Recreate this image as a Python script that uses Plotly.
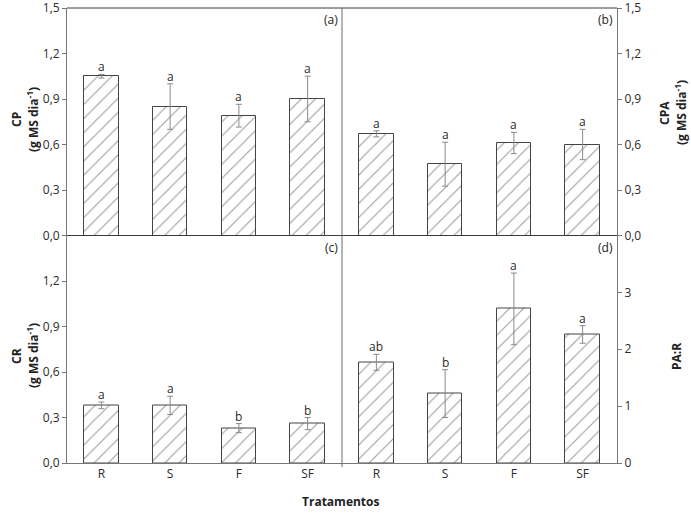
import plotly.graph_objects as go

categories = ["R", "S", "F", "SF"]

cp_values = [1.05, 0.85, 0.79, 0.90]
cp_errors = [0.012, 0.15, 0.075, 0.15]
cp_letters = ["a", "a", "a", "a"]

cpa_values = [0.67, 0.47, 0.61, 0.60]
cpa_errors = [0.02, 0.145, 0.07, 0.10]
cpa_letters = ["a", "a", "a", "a"]

cr_values = [0.38, 0.38, 0.23, 0.26]
cr_errors = [0.022, 0.06, 0.03, 0.04]
cr_letters = ["a", "a", "b", "b"]

par_values = [1.77, 1.22, 2.71, 2.26]
par_errors = [0.14, 0.42, 0.63, 0.155]
par_letters = ["ab", "b", "a", "a"]

cp_ticks = [0, 0.3, 0.6, 0.9, 1.2, 1.5]
cp_ticktext = ["0,0", "0,3", "0,6", "0,9", "1,2", "1,5"]
cr_ticks = [0, 0.3, 0.6, 0.9, 1.2]
cr_ticktext = ["0,0", "0,3", "0,6", "0,9", "1,2"]
par_ticks = [0, 1, 2, 3]
par_ticktext = ["0", "1", "2", "3"]

FONT = "Open Sans"
TXT = "#2b2b2b"
AXC = "#777777"
DARK = "#3a3a3a"

panels = [
    ("x", "y", cp_values, cp_errors, cp_letters),
    ("x2", "y2", cpa_values, cpa_errors, cpa_letters),
    ("x3", "y3", cr_values, cr_errors, cr_letters),
    ("x4", "y4", par_values, par_errors, par_letters),
]

fig = go.Figure()
annotations = []
for xa, ya, vals, errs, letters in panels:
    fig.add_trace(go.Bar(
        x=categories, y=vals, xaxis=xa, yaxis=ya, width=0.5,
        marker=dict(color="white",
                    line=dict(color="#444444", width=1),
                    pattern=dict(shape="/", size=10, solidity=0.11,
                                 fgcolor="#3a3a3a", bgcolor="white")),
        error_y=dict(type="data", array=errs, color="#8a8a8a",
                     thickness=1, width=3),
        showlegend=False,
    ))
    for c, v, e, l in zip(categories, vals, errs, letters):
        annotations.append(dict(
            x=c, y=v + e, xref=xa, yref=ya, text=l, showarrow=False,
            yanchor="bottom", yshift=-3,
            font=dict(family=FONT, size=12, color=TXT)))

# panel labels
for lab, xr, yr in [("(a)", 0.5, 1.0), ("(b)", 1.0, 1.0),
                    ("(c)", 0.5, 0.5), ("(d)", 1.0, 0.5)]:
    annotations.append(dict(
        x=xr, y=yr, xref="paper", yref="paper", text=lab, showarrow=False,
        xanchor="right", yanchor="top", xshift=-2, yshift=-1,
        font=dict(family=FONT, size=12, color="#222222")))

L, R, T, B = 67, 74, 8, 55
W, H = 691 - L - R, 518 - T - B

def px_to_paper(xpx, ypx):
    return (xpx - L) / W, (518 - B - ypx) / H

def title_ann(text, xpx, ypx):
    xp, yp = px_to_paper(xpx, ypx)
    return dict(x=xp, y=yp, xref="paper", yref="paper",
                text=text, showarrow=False, textangle=-90,
                xanchor="center", yanchor="middle",
                font=dict(family=FONT, size=12, color="#222222"))

annotations.append(title_ann("<b>CP</b>", 16, 120))
annotations.append(title_ann("<b>(g MS dia<sup>-1</sup>)</b>", 33, 120))
annotations.append(title_ann("<b>CPA</b>", 665, 113))
annotations.append(title_ann("<b>(g MS dia<sup>-1</sup>)</b>", 681, 113))
annotations.append(title_ann("<b>CR</b>", 16, 356))
annotations.append(title_ann("<b>(g MS dia<sup>-1</sup>)</b>", 33, 356))
annotations.append(title_ann("<b>PA:R</b>", 676, 357))
xp, yp = px_to_paper(341, 502)
annotations.append(dict(x=xp, y=yp, xref="paper", yref="paper",
                        text="<b>Tratamentos</b>", showarrow=False,
                        xanchor="center", yanchor="middle",
                        font=dict(family=FONT, size=12, color="#222222")))

tickfont = dict(family=FONT, size=12, color=TXT)
xcommon = dict(type="category", range=[-0.5, 3.5], showgrid=False,
               zeroline=False, ticks="", tickfont=tickfont, fixedrange=True,
               automargin=False)
ycommon = dict(showgrid=False, zeroline=False, ticks="outside", ticklen=4,
               tickcolor=AXC, showline=True, linecolor=AXC, linewidth=1,
               tickfont=tickfont, ticklabeloverflow="allow", automargin=False)

fig.update_layout(
    width=691, height=518,
    margin=dict(l=L, r=R, t=T, b=B, autoexpand=False),
    paper_bgcolor="white", plot_bgcolor="white",
    font=dict(family=FONT, color=TXT),
    bargap=0,
    xaxis=dict(domain=[0, 0.5], anchor="y", showticklabels=False,
               showline=False, **xcommon),
    xaxis2=dict(domain=[0.5, 1], anchor="y2", showticklabels=False,
                showline=False, **xcommon),
    xaxis3=dict(domain=[0, 0.5], anchor="y3", showticklabels=True,
                showline=True, linecolor=AXC, **xcommon),
    xaxis4=dict(domain=[0.5, 1], anchor="y4", showticklabels=True,
                showline=True, linecolor=AXC, **xcommon),
    yaxis=dict(domain=[0.5, 1], anchor="x", range=[0, 1.5],
               tickvals=cp_ticks, ticktext=cp_ticktext, **ycommon),
    yaxis2=dict(domain=[0.5, 1], anchor="x2", range=[0, 1.5], side="right",
                tickvals=cp_ticks, ticktext=cp_ticktext, **ycommon),
    yaxis3=dict(domain=[0, 0.5], anchor="x3", range=[0, 1.5],
                tickvals=cr_ticks, ticktext=cr_ticktext, **ycommon),
    yaxis4=dict(domain=[0, 0.5], anchor="x4", range=[0, 4], side="right",
                tickvals=par_ticks, ticktext=par_ticktext, **ycommon),
    annotations=annotations,
    shapes=[
        dict(type="line", xref="paper", yref="paper", x0=0, x1=1, y0=1, y1=1,
             line=dict(color=DARK, width=1)),
        dict(type="line", xref="paper", yref="paper", x0=0, x1=1, y0=0.5, y1=0.5,
             line=dict(color=DARK, width=1)),
        dict(type="line", xref="paper", yref="paper", x0=0.5, x1=0.5,
             y0=-4 / H, y1=1, line=dict(color="#6a6a6a", width=1)),
    ],
)

fig.write_html("out.html")
